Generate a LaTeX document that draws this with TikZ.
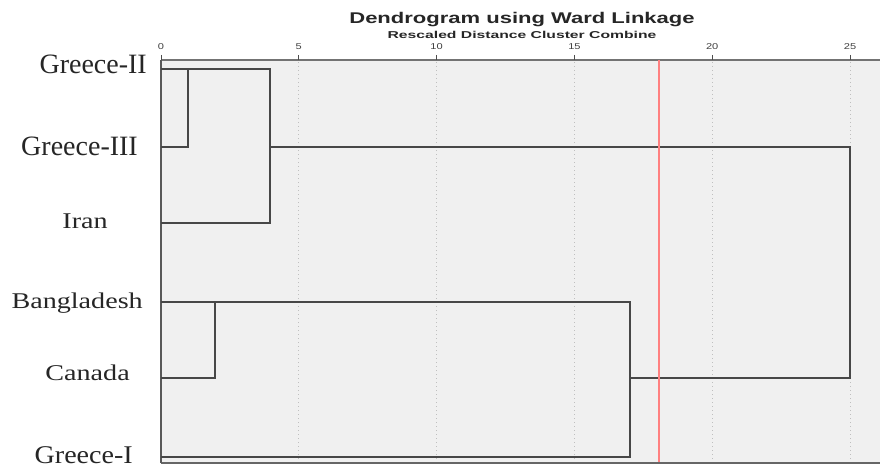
\documentclass[tikz,border=0pt]{standalone}
\usepackage{fontspec}
\setmainfont{Liberation Serif}
\newfontfamily\arialf{Liberation Sans}
\begin{document}
\begin{tikzpicture}[x=1pt,y=-1pt,
  dline/.style={draw=black!72,line width=1.6pt},
  lab/.style={anchor=base east,inner sep=0pt,text=black!85},
  grid/.style={draw=black!25,line width=1pt,dash pattern=on 1pt off 3pt},
  tick/.style={inner sep=0pt,font=\arialf\fontsize{8.5}{9}\selectfont,text=black!75}]
\useasboundingbox (0,0) rectangle (880,468);
\fill[white] (0,0) rectangle (880,468);
% plot area
\fill[black!6] (161,60) rectangle (880,463);
% grid
\foreach \v in {5,10,15,20,25}{
  \draw[grid] ({161+27.56*\v},62) -- ({161+27.56*\v},462);
}
% axis frame
\draw[draw=black!55,line width=1.2pt] (161,60) -- (880,60);
\draw[draw=black!60,line width=1.4pt] (161,463) -- (880,463);
\draw[draw=black!65,line width=1.6pt] (161,60) -- (161,463);
% ticks and labels
\foreach \v in {0,5,10,15,20,25}{
  \draw[draw=black!70,line width=0.9pt] ({161+27.56*\v},55) -- ({161+27.56*\v},60);
  \node[tick,xscale=1.3] (t\v) at ({161+27.56*\v},47) {\v};
}
% title
\node[inner sep=0pt,xscale=1.42,font=\arialf\bfseries\fontsize{15.5}{16}\selectfont,text=black!85] (title) at (522,19.5) {Dendrogram using Ward Linkage};
\node[inner sep=0pt,xscale=1.57,font=\arialf\bfseries\fontsize{10}{11}\selectfont,text=black!85] (subtitle) at (522,35) {Rescaled Distance Cluster Combine};
% leaf labels
\node[lab,font=\fontsize{28}{30}\selectfont] (gII) at (147,74) {Greece-II};
\node[lab,font=\fontsize{28}{30}\selectfont] (gIII) at (138,155) {Greece-III};
\node[lab,xscale=1.25,font=\fontsize{22.5}{24}\selectfont] (iran) at (108,228) {Iran};
\node[lab,xscale=1.25,font=\fontsize{22.5}{24}\selectfont] (bang) at (143,308) {Bangladesh};
\node[lab,xscale=1.25,font=\fontsize{22.5}{24}\selectfont] (cana) at (130,380) {Canada};
\node[lab,xscale=1.1,font=\fontsize{25.5}{27}\selectfont] (gI) at (133,463) {Greece-I};
% leaf anchors
\coordinate (lgII) at (161,69);
\coordinate (lgIII) at (161,147);
\coordinate (liran) at (161,223);
\coordinate (lbang) at (161,302);
\coordinate (lcana) at (161,378);
\coordinate (lgI) at (161,457);
% merge points
\coordinate (m1a) at (188,69);  \coordinate (m1b) at (188,147);
\coordinate (m2a) at (270,69);  \coordinate (m2b) at (270,223); \coordinate (m2c) at (270,147);
\coordinate (m3a) at (215,302); \coordinate (m3b) at (215,378);
\coordinate (m4a) at (630,302); \coordinate (m4b) at (630,457); \coordinate (m4c) at (630,378);
\coordinate (m5a) at (850,147); \coordinate (m5b) at (850,378);
% dendrogram
\draw[dline] (lgII) -- (m1a) -- (m1b) -- (lgIII);
\draw[dline] (m1a) -- (m2a) -- (m2b) -- (liran);
\draw[dline] (lcana) -- (m3b) -- (m3a);
\draw[dline] (lbang) -- (m4a) -- (m4b) -- (lgI);
\draw[dline] (m2c) -- (m5a) -- (m5b) -- (m4c);
% cut line
\draw[draw=red!50,line width=2pt] (659,60) -- (659,462);
\end{tikzpicture}
\end{document}
